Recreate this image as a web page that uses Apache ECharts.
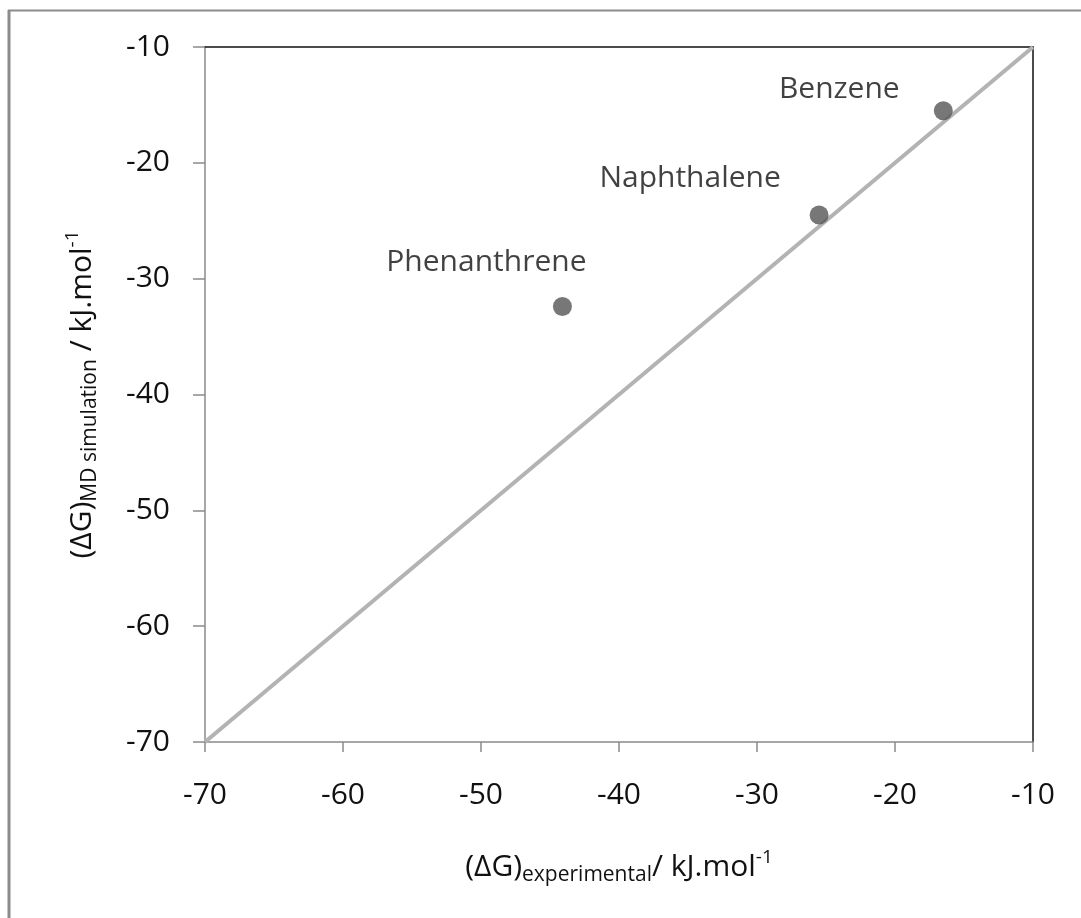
<!DOCTYPE html>
<html>
<head>
<meta charset="utf-8">
<title>Solvation free energy: MD simulation vs experiment</title>
<script src="https://cdn.jsdelivr.net/npm/echarts@6/dist/echarts.min.js"></script>
<style>
  html, body { margin: 0; padding: 0; background: #ffffff; }
  #chart { width: 1081px; height: 918px; }
</style>
</head>
<body>
<div id="chart"></div>
<script>
// Free energies (kJ/mol) for three aromatic hydrocarbons
const compounds = ['Benzene', 'Naphthalene', 'Phenanthrene'];
const experimental = [-16.5, -25.5, -44.1];
const simulated = [-15.5, -24.5, -32.4];

// Ideal agreement line y = x, drawn across the axis range
const parityX = [-70, -10];
const parityY = [-70, -10];

// Axis range and ticks
const axisMin = -70;
const axisMax = -10;
const axisStep = 10;

// Where each compound name sits relative to its point (pixels)
const labelOffsets = {
  'Benzene': [-104, -21],
  'Naphthalene': [-129, -37],
  'Phenanthrene': [-76, -44]
};

const FONT = '"Open Sans", "Liberation Sans", sans-serif';
const TEXT = '#111111';
const AXIS_GRAY = '#8a8a8a';

const richName = {
  m: { fontSize: 30, fontFamily: FONT, color: TEXT, lineHeight: 38, verticalAlign: 'middle' },
  s: { fontSize: 21, fontFamily: FONT, color: TEXT, lineHeight: 21, verticalAlign: 'bottom' },
  p: { fontSize: 19, fontFamily: FONT, color: TEXT, lineHeight: 25, verticalAlign: 'top' }
};

const scatterData = compounds.map((name, i) => ({
  name: name,
  value: [experimental[i], simulated[i]],
  label: { offset: labelOffsets[name] }
}));

const parityData = parityX.map((x, i) => [x, parityY[i]]);

const chart = echarts.init(document.getElementById('chart'), null, { renderer: 'canvas' });

chart.setOption({
  backgroundColor: '#ffffff',
  animation: false,
  grid: { left: 205, right: 48, top: 47, bottom: 176, containLabel: false },
  graphic: [
    { type: 'line', shape: { x1: 9, y1: 10, x2: 9, y2: 918 }, style: { stroke: '#8c8c8c', lineWidth: 3 } },
    { type: 'line', shape: { x1: 8, y1: 10.5, x2: 1081, y2: 10.5 }, style: { stroke: '#8c8c8c', lineWidth: 2 } }
  ],
  xAxis: [
    {
      type: 'value', position: 'bottom', min: axisMin, max: axisMax, interval: axisStep,
      splitLine: { show: false },
      axisLine: { show: true, onZero: false, lineStyle: { color: AXIS_GRAY, width: 1.5 } },
      axisTick: { show: true, inside: false, length: 10, lineStyle: { color: AXIS_GRAY, width: 1.5 } },
      axisLabel: { margin: 38, fontSize: 30, fontFamily: FONT, color: TEXT },
      name: '{m|(ΔG)}{s|experimental}{m|/ kJ.mol}{p|-1}',
      nameLocation: 'middle',
      nameGap: 106,
      nameTextStyle: { rich: richName }
    },
    {
      type: 'value', position: 'top', min: axisMin, max: axisMax, interval: axisStep,
      splitLine: { show: false },
      axisLine: { show: true, onZero: false, lineStyle: { color: '#111111', width: 1.5 } },
      axisTick: { show: false }, axisLabel: { show: false }
    }
  ],
  yAxis: [
    {
      type: 'value', position: 'left', min: axisMin, max: axisMax, interval: axisStep,
      splitLine: { show: false },
      axisLine: { show: true, onZero: false, lineStyle: { color: AXIS_GRAY, width: 1.5 } },
      axisTick: { show: true, inside: false, length: 12, lineStyle: { color: AXIS_GRAY, width: 1.5 } },
      axisLabel: { margin: 35, fontSize: 30, fontFamily: FONT, color: TEXT },
      name: '{m|(ΔG)}{s|MD simulation}{m| / kJ.mol}{p|-1}',
      nameLocation: 'middle',
      nameGap: 104,
      nameRotate: 90,
      nameTextStyle: { rich: richName }
    },
    {
      type: 'value', position: 'right', min: axisMin, max: axisMax, interval: axisStep,
      splitLine: { show: false },
      axisLine: { show: true, onZero: false, lineStyle: { color: '#111111', width: 1.5 } },
      axisTick: { show: false }, axisLabel: { show: false }
    }
  ],
  series: [
    {
      type: 'line',
      data: parityData,
      showSymbol: false,
      symbol: 'none',
      lineStyle: { color: '#b3b3b3', width: 4 },
      z: 2,
      silent: true
    },
    {
      type: 'scatter',
      data: scatterData,
      symbol: 'circle',
      symbolSize: 19,
      itemStyle: { color: '#555555' },
      z: 3,
      label: {
        show: true,
        position: 'inside',
        formatter: '{b}',
        fontSize: 30,
        fontFamily: FONT,
        color: TEXT,
        align: 'center',
        verticalAlign: 'middle'
      }
    }
  ]
});
</script>
</body>
</html>
